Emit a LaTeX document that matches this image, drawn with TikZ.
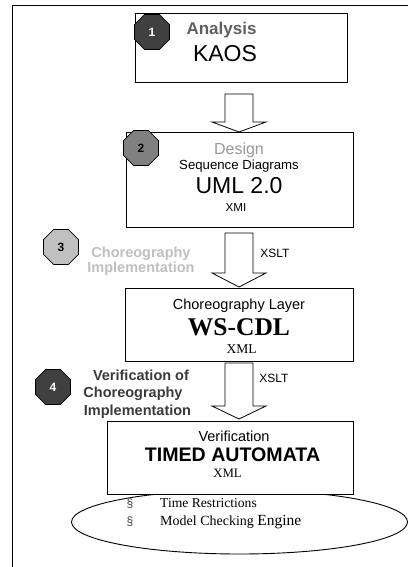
\documentclass[tikz,border=0pt]{standalone}
\usepackage{fontspec}
\setmainfont{Liberation Serif}
\setsansfont{Liberation Sans}
\usetikzlibrary{shapes.geometric,calc}
\definecolor{octdark}{HTML}{404040}
\definecolor{octmid}{HTML}{808080}
\definecolor{octlight}{HTML}{C0C0C0}
\definecolor{txtana}{HTML}{606060}
\definecolor{txtdes}{HTML}{999999}
\definecolor{txtchor}{HTML}{BFBFBF}
\definecolor{txtver}{HTML}{3A3A3A}
\newcommand{\fsz}[1]{\fontsize{#1}{#1}\selectfont}
\newcommand{\blockarr}[3]{%
  \draw[blockarrow] let \p1=(#1), \p2=(#2) in
    (\x1-14pt,\y1) -- (\x1+14pt,\y1) -- (\x1+14pt,\y2+#3) -- (\x1+27pt,\y2+#3)
    -- (\x2,\y2) -- (\x1-27pt,\y2+#3) -- (\x1-14pt,\y2+#3) -- cycle;}
\begin{document}
\begin{tikzpicture}[x=1pt,y=-1pt,
  box/.style={draw=black, line width=0.9pt, fill=white, rectangle, inner sep=0pt},
  oct/.style={regular polygon, regular polygon sides=8, draw=black, line width=0.7pt,
     minimum size=38pt, inner sep=0pt, font=\sffamily\bfseries\fsz{12}},
  txt/.style={inner sep=0pt, anchor=base},
  blockarrow/.style={draw=black, line width=0.8pt, fill=white},
  frame/.style={draw=black, line width=0.9pt}]
\useasboundingbox (0,0) rectangle (411,567);
% outer frame (top and left)
\coordinate (fl) at (12,567);
\coordinate (fc) at (12,5);
\coordinate (fr) at (408,5);
\draw[frame] (fl) -- (fc) -- (fr);

% boxes
\node[box, minimum width=212pt, minimum height=69pt] (box1) at (241,47.5) {};
\node[box, minimum width=227pt, minimum height=95pt] (box2) at (239.5,179.5) {};
\node[box, minimum width=228pt, minimum height=73pt] (box3) at (239,324.5) {};
\node[draw=black, line width=0.9pt, ellipse, minimum width=336pt, minimum height=64pt, inner sep=0pt] (ell) at (239.5,522) {};
\node[box, minimum width=246pt, minimum height=73pt] (box4) at (230,457.5) {};

% arrows
\coordinate (a1s) at (239,94);  \coordinate (a1e) at (239,132);
\coordinate (a2s) at (239,233); \coordinate (a2e) at (239,287);
\coordinate (a3s) at (239,363); \coordinate (a3e) at (239,419);
\blockarr{a1s}{a1e}{10pt}
\blockarr{a2s}{a2e}{14pt}
\blockarr{a3s}{a3e}{13pt}

% box 1
\node[txt, font=\sffamily\bfseries\fsz{17}, text=txtana] (t1a) at (221.5,35) {Analysis};
\node[txt, font=\sffamily\fsz{23}] (t1b) at (225,62) {KAOS};
% box 2
\node[txt, font=\sffamily\fsz{16}, text=txtdes] (t2a) at (239,154) {Design};
\node[txt, font=\sffamily\fsz{13.2}] (t2b) at (239,169.5) {Sequence Diagrams};
\node[txt, font=\sffamily\fsz{23}] (t2c) at (239,193) {UML 2.0};
\node[txt, font=\sffamily\fsz{11.6}] (t2d) at (236,211.5) {XMI};
% box 3
\node[txt, font=\sffamily\fsz{14.5}] (t3a) at (239,309) {Choreography Layer};
\node[txt, font=\bfseries\fsz{25.5}] (t3b) at (239,335) {WS-CDL};
\node[txt, font=\fsz{13.5}] (t3c) at (241.5,353.5) {XML};
% box 4
\node[txt, font=\sffamily\fsz{14.5}] (t4a) at (234,441) {Verification};
\node[txt, font=\sffamily\bfseries\fsz{19.6}] (t4b) at (232.5,461) {TIMED AUTOMATA};
\node[txt, font=\fsz{12.8}] (t4c) at (227.5,477.5) {XML};
% ellipse text
\node[txt, font=\sffamily\fsz{12}, text=black!75] (b1) at (130,507) {§};
\node[txt, font=\sffamily\fsz{12}, text=black!75] (b2) at (130,525.5) {§};
\node[inner sep=0pt, anchor=base west, font=\fsz{13.6}] (e1) at (160,507) {Time Restrictions};
\node[inner sep=0pt, anchor=base west, font=\fsz{14}] (e2) at (160,525.5) {Model Checking {\fsz{15.5}Engine}};

% XSLT labels
\node[txt, font=\sffamily\fsz{12}] (x1) at (275,257) {XSLT};
\node[txt, font=\sffamily\fsz{12}] (x2) at (274,382) {XSLT};

% step labels
\node[txt, font=\sffamily\bfseries\fsz{14.5}, text=txtchor] (c3a) at (141,257) {Choreography};
\node[txt, font=\sffamily\bfseries\fsz{14.5}, text=txtchor] (c3b) at (141,272) {Implementation};
\node[txt, font=\sffamily\bfseries\fsz{14.5}, text=txtver] (c4a) at (141,380) {Verification of};
\node[txt, font=\sffamily\bfseries\fsz{14.5}, text=txtver] (c4b) at (133,397.5) {Choreography};
\node[txt, font=\sffamily\bfseries\fsz{14.5}, text=txtver] (c4c) at (137.5,415) {Implementation};

% octagons
\node[oct, fill=octdark, text=white] (o1) at (152,32) {1};
\node[oct, fill=octmid, text=black] (o2) at (141,148) {2};
\node[oct, fill=octlight, text=black] (o3) at (61,247) {3};
\node[oct, fill=octdark, text=white] (o4) at (53,387) {4};
\end{tikzpicture}
\end{document}
